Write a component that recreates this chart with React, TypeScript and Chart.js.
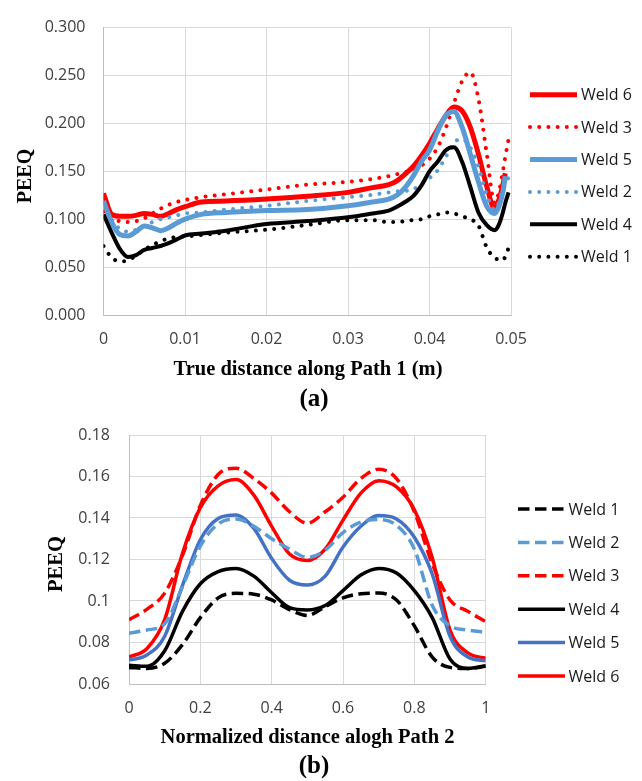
import React, { useEffect, useRef } from 'react';
import { Chart, registerables } from 'chart.js';
Chart.register(...registerables);

// ---------- Chart (a) data ----------
const X_A = [0, 0.001, 0.002, 0.003, 0.004, 0.005, 0.006, 0.007, 0.008, 0.009, 0.010, 0.012, 0.015, 0.020, 0.025, 0.030, 0.033, 0.035, 0.036, 0.037, 0.038, 0.039, 0.040, 0.041, 0.042, 0.043, 0.044, 0.045, 0.046, 0.047, 0.048, 0.0485, 0.049, 0.0493, 0.0497];
const W6_A = [0.127, 0.105, 0.103, 0.103, 0.104, 0.106, 0.105, 0.103, 0.106, 0.110, 0.113, 0.118, 0.119, 0.121, 0.124, 0.128, 0.133, 0.136, 0.140, 0.147, 0.155, 0.166, 0.179, 0.194, 0.208, 0.217, 0.213, 0.196, 0.168, 0.135, 0.111, 0.120, 0.136, 0.148, null];
const W3_A = [0.108, 0.100, 0.098, 0.097, 0.098, 0.101, 0.106, 0.111, 0.115, 0.118, 0.120, 0.123, 0.126, 0.131, 0.136, 0.139, 0.142, 0.145, 0.147, 0.149, 0.151, 0.156, 0.163, 0.175, 0.195, 0.221, 0.244, 0.2535, 0.226, 0.170, 0.117, 0.128, 0.150, 0.165, 0.1835];
const W5_A = [0.119, 0.097, 0.084, 0.0825, 0.087, 0.093, 0.091, 0.088, 0.091, 0.096, 0.100, 0.105, 0.107, 0.109, 0.110, 0.114, 0.118, 0.121, 0.125, 0.133, 0.145, 0.160, 0.172, 0.192, 0.208, 0.2125, 0.196, 0.168, 0.139, 0.114, 0.106, 0.113, 0.128, 0.145, null];
const W2_A = [0.116, 0.100, 0.090, 0.087, 0.089, 0.093, 0.097, 0.100, 0.102, 0.104, 0.106, 0.107, 0.110, 0.114, 0.119, 0.123, 0.1255, 0.128, 0.129, 0.1295, 0.131, 0.137, 0.143, 0.151, 0.165, 0.180, 0.1835, 0.175, 0.155, 0.126, 0.110, 0.117, 0.132, 0.140, 0.143];
const W4_A = [0.105, 0.086, 0.069, 0.0605, 0.0625, 0.068, 0.070, 0.072, 0.075, 0.079, 0.083, 0.085, 0.088, 0.095, 0.098, 0.102, 0.106, 0.109, 0.113, 0.118, 0.124, 0.135, 0.150, 0.160, 0.172, 0.175, 0.160, 0.134, 0.107, 0.094, 0.0885, 0.094, 0.107, 0.117, 0.128];
const W1_A = [0.072, 0.060, 0.056, 0.057, 0.062, 0.068, 0.073, 0.077, 0.080, 0.0815, 0.082, 0.0835, 0.086, 0.089, 0.094, 0.099, 0.099, 0.097, 0.097, 0.098, 0.099, 0.100, 0.103, 0.105, 0.107, 0.106, 0.103, 0.100, 0.0935, 0.071, 0.0594, 0.058, 0.057, 0.061, 0.070];

const Y_TICKS_A = { min: 0, max: 0.3, step: 0.05 };
const X_TICKS_A = { min: 0, max: 0.05, step: 0.01 };

// ---------- Chart (b) data ----------
const X_B = [0, 0.05, 0.1, 0.15, 0.2, 0.25, 0.3, 0.35, 0.4, 0.45, 0.5, 0.55, 0.6, 0.65, 0.7, 0.75, 0.8, 0.85, 0.9, 0.95, 1];
const W1_B = [0.068, 0.0675, 0.070, 0.079, 0.092, 0.1015, 0.1037, 0.1033, 0.1005, 0.0958, 0.093, 0.0973, 0.1015, 0.1035, 0.1038, 0.1005, 0.088, 0.073, 0.068, 0.0675, 0.0685];
const W2_B = [0.0845, 0.086, 0.089, 0.107, 0.1265, 0.1372, 0.1395, 0.136, 0.130, 0.125, 0.121, 0.1245, 0.133, 0.138, 0.1393, 0.1365, 0.125, 0.098, 0.088, 0.086, 0.085];
const W3_B = [0.091, 0.096, 0.1038, 0.122, 0.146, 0.161, 0.164, 0.159, 0.152, 0.143, 0.1375, 0.143, 0.150, 0.159, 0.1635, 0.159, 0.143, 0.118, 0.1005, 0.095, 0.090];
const W4_B = [0.069, 0.0685, 0.076, 0.095, 0.1083, 0.1142, 0.1157, 0.112, 0.104, 0.0968, 0.0957, 0.0978, 0.105, 0.1125, 0.1157, 0.1135, 0.105, 0.092, 0.072, 0.0675, 0.0688];
const W5_B = [0.0715, 0.074, 0.083, 0.1075, 0.1295, 0.1398, 0.1415, 0.135, 0.1205, 0.110, 0.1077, 0.112, 0.126, 0.136, 0.1412, 0.1395, 0.1307, 0.113, 0.083, 0.073, 0.0712];
const W6_B = [0.073, 0.077, 0.091, 0.123, 0.145, 0.1555, 0.1585, 0.151, 0.136, 0.1226, 0.1195, 0.125, 0.139, 0.152, 0.158, 0.155, 0.144, 0.121, 0.086, 0.075, 0.0724];

const Y_TICKS_B = { min: 0.06, max: 0.18, step: 0.02 };
const X_TICKS_B = { min: 0, max: 1, step: 0.2 };

// ---------- styling ----------
const RED = '#FF0000';
const BLUE_A = '#5B9BD5';
const BLUE_B = '#4472C4';
const LIGHTBLUE = '#5B9BD5';
const BLACK = '#000000';
const TICK_FONT = { family: "'Open Sans', 'DejaVu Sans', sans-serif", size: 16 };
const TICK_COLOR = '#404040';
const GRID = '#D9D9D9';
const SERIF = "'Liberation Serif', 'Times New Roman', serif";

const pts = (xs: number[], ys: (number | null)[]) => xs.map((x, i) => ({ x, y: ys[i] }));

const dotted = (label: string, color: string, xs: number[], ys: (number | null)[]) => ({
  label, data: pts(xs, ys), borderColor: color, backgroundColor: color,
  borderWidth: 4, borderDash: [0.001, 9.2], borderCapStyle: 'round', fill: false,
});
const solid = (label: string, color: string, xs: number[], ys: (number | null)[], w: number) => ({
  label, data: pts(xs, ys), borderColor: color, backgroundColor: color,
  borderWidth: w, borderDash: [], borderCapStyle: 'butt', fill: false,
});
const dashed = (label: string, color: string, xs: number[], ys: (number | null)[]) => ({
  label, data: pts(xs, ys), borderColor: color, backgroundColor: color,
  borderWidth: 3.5, borderDash: [11.5, 5.5], borderCapStyle: 'butt', fill: false,
});

type TextItem = { text: string; x: number; y: number; font: string; rotate?: number };
type OverlayCfg = {
  legendOrder: number[]; lx0: number; lx1: number; tx: number; ly0: number; ldy: number;
  texts: TextItem[];
};

function makeOverlay(cfg: OverlayCfg) {
  return {
    id: 'overlay',
    afterDraw(chart: any) {
      const ctx = chart.ctx as CanvasRenderingContext2D;
      ctx.save();
      cfg.legendOrder.forEach((di, k) => {
        const ds = chart.data.datasets[di];
        const y = cfg.ly0 + k * cfg.ldy;
        ctx.beginPath();
        ctx.strokeStyle = ds.borderColor;
        ctx.lineWidth = ds.borderWidth;
        ctx.setLineDash(ds.borderDash || []);
        ctx.lineCap = ds.borderCapStyle || 'butt';
        ctx.moveTo(cfg.lx0, y);
        ctx.lineTo(cfg.lx1, y);
        ctx.stroke();
        ctx.setLineDash([]);
        ctx.fillStyle = '#1a1a1a';
        ctx.font = `16px ${TICK_FONT.family}`;
        ctx.textAlign = 'left';
        ctx.textBaseline = 'middle';
        ctx.fillText(ds.label, cfg.tx, y + 1);
      });
      cfg.texts.forEach((t) => {
        ctx.save();
        ctx.font = t.font;
        ctx.fillStyle = '#000';
        ctx.textAlign = 'center';
        ctx.textBaseline = 'alphabetic';
        ctx.translate(t.x, t.y);
        if (t.rotate) ctx.rotate(t.rotate);
        ctx.fillText(t.text, 0, 0);
        ctx.restore();
      });
      ctx.restore();
    },
  };
}

function fmtShort(v: number) {
  const r = Math.round(v * 100) / 100;
  return r === 0 ? '0' : String(r);
}

function buildA() {
  const datasets = [
    dotted('Weld 1', BLACK, X_A, W1_A),
    solid('Weld 4', BLACK, X_A, W4_A, 4),
    dotted('Weld 2', BLUE_A, X_A, W2_A),
    solid('Weld 5', BLUE_A, X_A, W5_A, 5),
    dotted('Weld 3', RED, X_A, W3_A),
    solid('Weld 6', RED, X_A, W6_A, 5),
  ];
  return {
    type: 'line',
    data: { datasets },
    options: {
      animation: false, responsive: false, devicePixelRatio: 1,
      layout: { padding: { top: 20.7, right: 131, left: 0, bottom: 0 } },
      elements: { point: { radius: 0, hoverRadius: 0 }, line: { cubicInterpolationMode: 'monotone' } },
      plugins: { legend: { display: false }, tooltip: { enabled: false } },
      scales: {
        x: {
          type: 'linear', min: X_TICKS_A.min, max: X_TICKS_A.max,
          ticks: { stepSize: X_TICKS_A.step, padding: 15, font: TICK_FONT, color: TICK_COLOR, maxRotation: 0, autoSkip: false, callback: (v: number) => fmtShort(v) },
          grid: { color: GRID, lineWidth: 1, drawTicks: false },
          border: { color: '#BFBFBF' },
          afterFit: (s: any) => { s.height = 105; },
        },
        y: {
          type: 'linear', min: Y_TICKS_A.min, max: Y_TICKS_A.max,
          ticks: { stepSize: Y_TICKS_A.step, padding: 18, font: TICK_FONT, color: TICK_COLOR, callback: (v: number) => v.toFixed(3) },
          grid: { color: GRID, lineWidth: 1, drawTicks: false },
          border: { color: '#BFBFBF' },
          afterFit: (s: any) => { s.width = 103.5; },
        },
      },
    },
    plugins: [makeOverlay({
      legendOrder: [5, 4, 3, 2, 1, 0], lx0: 530, lx1: 577, tx: 581, ly0: 94.7, ldy: 32.4,
      texts: [
        { text: 'PEEQ', x: 30.5, y: 176, font: `bold 20px ${SERIF}`, rotate: -Math.PI / 2 },
        { text: 'True distance along Path 1 (m)', x: 308, y: 375, font: `bold 20.5px ${SERIF}` },
        { text: '(a)', x: 314, y: 405.5, font: `bold 25px ${SERIF}` },
      ],
    })],
  };
}

function buildB() {
  const datasets = [
    dashed('Weld 1', BLACK, X_B, W1_B),
    dashed('Weld 2', LIGHTBLUE, X_B, W2_B),
    dashed('Weld 3', RED, X_B, W3_B),
    solid('Weld 4', BLACK, X_B, W4_B, 3.5),
    solid('Weld 5', BLUE_B, X_B, W5_B, 3.5),
    solid('Weld 6', RED, X_B, W6_B, 3.5),
  ];
  return {
    type: 'line',
    data: { datasets },
    options: {
      animation: false, responsive: false, devicePixelRatio: 1,
      layout: { padding: { top: 35, right: 156.3, left: 0, bottom: 0 } },
      elements: { point: { radius: 0, hoverRadius: 0 }, line: { cubicInterpolationMode: 'monotone' } },
      plugins: { legend: { display: false }, tooltip: { enabled: false } },
      scales: {
        x: {
          type: 'linear', min: X_TICKS_B.min, max: X_TICKS_B.max,
          ticks: { stepSize: X_TICKS_B.step, padding: 15, font: TICK_FONT, color: TICK_COLOR, maxRotation: 0, autoSkip: false, callback: (v: number) => fmtShort(v) },
          grid: { color: GRID, lineWidth: 1, drawTicks: false },
          border: { color: '#BFBFBF' },
          afterFit: (s: any) => { s.height = 97; },
        },
        y: {
          type: 'linear', min: Y_TICKS_B.min, max: Y_TICKS_B.max,
          ticks: { stepSize: Y_TICKS_B.step, padding: 19, font: TICK_FONT, color: TICK_COLOR, callback: (v: number) => fmtShort(v) },
          grid: { color: GRID, lineWidth: 1, drawTicks: false },
          border: { color: '#BFBFBF' },
          afterFit: (s: any) => { s.width = 129; },
        },
      },
    },
    plugins: [makeOverlay({
      legendOrder: [0, 1, 2, 3, 4, 5], lx0: 518, lx1: 565, tx: 568.5, ly0: 109, ldy: 33.4,
      texts: [
        { text: 'PEEQ', x: 61.7, y: 164, font: `bold 20.5px ${SERIF}`, rotate: -Math.PI / 2 },
        { text: 'Normalized distance alogh Path 2', x: 307.5, y: 343, font: `bold 20.5px ${SERIF}` },
        { text: '(b)', x: 314, y: 372.5, font: `bold 25px ${SERIF}` },
      ],
    })],
  };
}

function ChartCanvas({ build, top, width, height }: { build: () => any; top: number; width: number; height: number }) {
  const ref = useRef<HTMLCanvasElement>(null);
  useEffect(() => {
    const chart = new Chart(ref.current as HTMLCanvasElement, build());
    return () => chart.destroy();
  }, []);
  return (
    <canvas
      ref={ref}
      width={width}
      height={height}
      style={{ position: 'absolute', left: 0, top, width, height }}
    />
  );
}

export default function App() {
  return (
    <div style={{ position: 'absolute', left: 0, top: 0, width: 642, height: 781, background: '#fff' }}>
      <ChartCanvas build={buildA} top={0} width={642} height={420} />
      <ChartCanvas build={buildB} top={400} width={642} height={381} />
    </div>
  );
}
